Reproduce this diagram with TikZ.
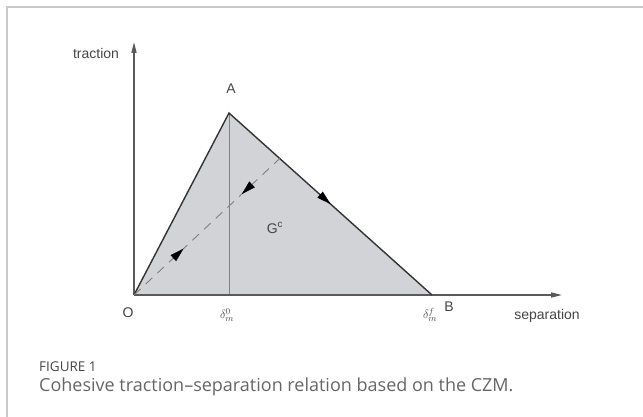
\documentclass[tikz,border=0pt]{standalone}
\usepackage{fontspec}
\setmainfont{Liberation Sans}
\newfontfamily\capfont{Open Sans}
\usetikzlibrary{calc,arrows.meta,decorations.markings}
\definecolor{framegray}{HTML}{C9C9C9}
\definecolor{axisgray}{HTML}{5A5A5A}
\definecolor{areagray}{HTML}{D2D3D7}
\definecolor{labelgray}{HTML}{454545}
\tikzset{
  lbl/.style={text=labelgray, font=\fontsize{14}{14}\selectfont, inner sep=0pt},
  axisline/.style={axisgray, line width=1.3pt, -{Triangle[length=11pt,width=5pt]}},
  midtip/.style={postaction={decorate, decoration={markings,
      mark=at position #1 with {\arrow{Triangle[length=14pt,width=8pt]}}}}},
  midtipback/.style={postaction={decorate, decoration={markings,
      mark=at position #1 with {\arrowreversed{Triangle[length=14pt,width=8pt]}}}}}
}

\begin{document}
\begin{tikzpicture}[x=1pt, y=-1pt]
    \useasboundingbox (0,0) rectangle (643,417);
    % card frame
    \draw[framegray, line width=1.5pt] (7,417) -- (7,7) -- (643,7);
    \coordinate (O) at (134,295);
    \coordinate (A) at (229,113);
    \coordinate (B) at (432,295);
    \coordinate (Am) at (229,295);
    \coordinate (Y) at (134,42);
    \coordinate (X) at (562,295);
    \coordinate (D) at ($(A)!0.25!(B)$);
    \fill[areagray] (O) -- (A) -- (B) -- cycle;
    \draw[gray, line width=0.7pt] (A) -- (Am);
    \draw[axisline] (O) -- (Y);
    \draw[axisline] (O) -- (X);
    \draw[black!80, line width=1.4pt, line join=miter] (O) -- (A) -- (B);
    \path[midtip=0.5] (A) -- (B);
    \draw[gray, line width=0.9pt, dash pattern=on 9pt off 7pt] (O) -- (D);
    \path[midtip=0.34] (O) -- (D);
    \path[midtipback=0.74] (O) -- (D);
    % labels
    \node[lbl] (traction) at (96,53) {traction};
    \node[lbl] (separation) at (547,316) {separation};
    \node[lbl] (Olbl) at (128,313) {O};
    \node[lbl] (Albl) at (231,89) {A};
    \node[lbl] (Blbl) at (449,307) {B};
    \node[lbl] (Gc) at (275,228) {G$^{\mathrm{c}}$};
    \node[lbl, font=\fontsize{13}{13}\selectfont] (d0) at (227,315) {$\delta^{0}_{m}$};
    \node[lbl, font=\fontsize{13}{13}\selectfont] (df) at (430,315) {$\delta^{f}_{m}$};
    % caption
    \node[anchor=base west, inner sep=0pt, text=labelgray,
      font=\capfont\fontsize{13.5}{13.5}\selectfont] (fig) at (39,371) {FIGURE 1};
    \node[anchor=base west, inner sep=0pt, text=black!60,
      font=\capfont\fontsize{18}{18}\selectfont] (cap) at (39,391)
      {Cohesive traction–separation relation based on the CZM.};
\end{tikzpicture}
\end{document}
